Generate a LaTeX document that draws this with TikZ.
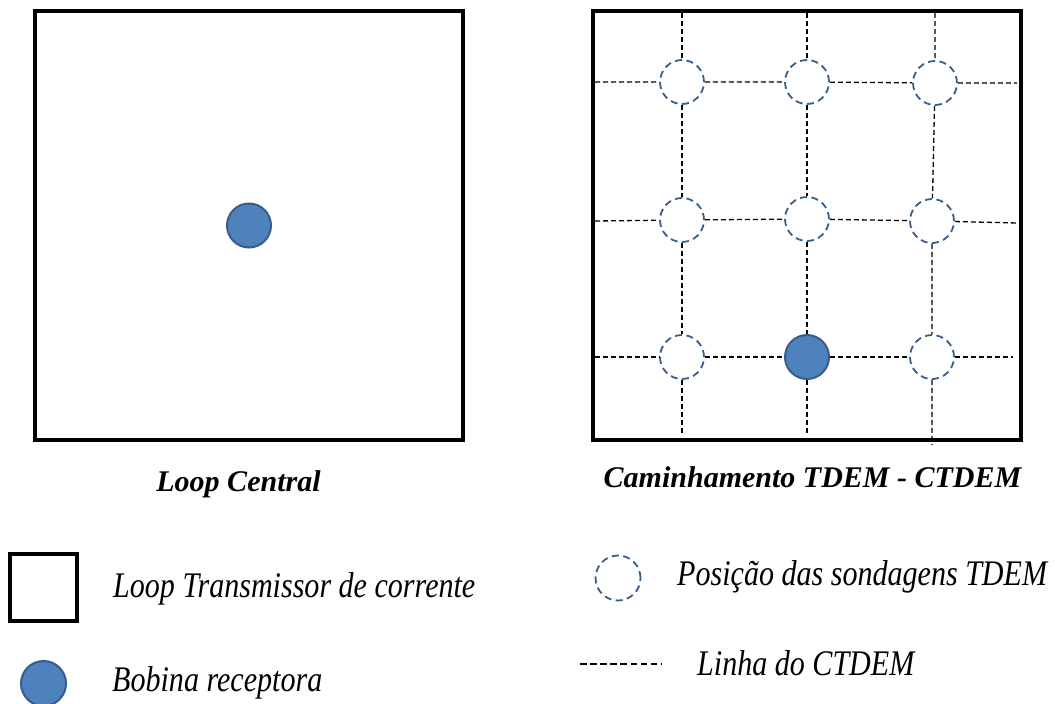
\documentclass[tikz,border=0pt]{standalone}
\usepackage{fontspec}
\setmainfont{Liberation Serif}
\usepackage{graphicx}
\definecolor{cfill}{HTML}{4F81BD}
\definecolor{cline}{HTML}{385D8A}
\tikzset{
  loopbox/.style={draw=black,line width=4pt,line join=miter},
  receiver/.style={circle,draw=cline,fill=cfill,line width=2pt,minimum size=44pt,inner sep=0pt},
  probe/.style={circle,draw=cline,line width=1.8pt,dash pattern=on 7pt off 4.5pt,minimum size=44pt,inner sep=0pt},
  gridline/.style={draw=black,line width=1.3pt,dash pattern=on 5pt off 3pt},
  titletext/.style={font=\fontsize{30}{36}\selectfont\bfseries\itshape,inner sep=0pt,anchor=base},
  legtext/.style={font=\fontsize{36}{42}\selectfont\itshape,inner sep=0pt,anchor=base west},
}
\newcommand{\legscale}[1]{\scalebox{0.835}[1]{#1}}
\begin{document}
\begin{tikzpicture}[x=1pt,y=-1pt]
\useasboundingbox (0,0) rectangle (1055,704);
% Loop Central
\node[loopbox,rectangle,minimum width=428pt,minimum height=429pt,inner sep=0pt] (loopA) at (249,225.5) {};
\node[receiver] (recA) at (249,225.5) {};
% Caminhamento
\node[loopbox,rectangle,minimum width=428pt,minimum height=429pt,inner sep=0pt] (loopB) at (807,225.5) {};
\node[probe] (c11) at (682,82) {};
\node[probe] (c12) at (807,82) {};
\node[probe] (c13) at (935,83) {};
\node[probe] (c21) at (682,220) {};
\node[probe] (c22) at (807,219) {};
\node[probe] (c23) at (932,221) {};
\node[probe] (c31) at (682,357) {};
\node[receiver] (c32) at (807,357) {};
\node[probe] (c33) at (932,357) {};
% line ends
\coordinate (v1t) at (682,13);
\coordinate (v1b) at (682,435);
\coordinate (v2t) at (807,13);
\coordinate (v2b) at (807,435);
\coordinate (v3t) at (935,13);
\coordinate (v3b) at (932,445);
\coordinate (h1l) at (595,82);
\coordinate (h1r) at (1017,83);
\coordinate (h2l) at (595,221);
\coordinate (h2r) at (1017,223);
\coordinate (h3l) at (595,357);
\coordinate (h3r) at (1013,357);
\draw[gridline] (v1t) -- (c11) -- (c21) -- (c31) -- (v1b);
\draw[gridline] (v2t) -- (c12) -- (c22) -- (c32) -- (v2b);
\draw[gridline] (v3t) -- (c13) -- (c23) -- (c33) -- (v3b);
\draw[gridline] (h1l) -- (c11) -- (c12) -- (c13) -- (h1r);
\draw[gridline] (h2l) -- (c21) -- (c22) -- (c23) -- (h2r);
\draw[gridline] (h3l) -- (c31) -- (c32) -- (c33) -- (h3r);
% titles
\node[titletext] (tA) at (238.5,491) {Loop Central};
\node[titletext] (tB) at (812.5,487) {Caminhamento TDEM - CTDEM};
% legend
\node[loopbox,rectangle,minimum width=67pt,minimum height=67pt,inner sep=0pt] (lsq) at (43.5,587.5) {};
\node[legtext] (lsqt) at (113,597) {\legscale{Loop Transmissor de corrente}};
\node[receiver,minimum size=45pt] (lrec) at (43.5,683.5) {};
\node[legtext] (lrect) at (112,691) {\legscale{Bobina receptora}};
\node[probe,minimum size=45pt] (lpos) at (618,578) {};
\node[legtext] (lpost) at (677,585) {\legscale{Posição das sondagens TDEM}};
\coordinate (ld1) at (580,664);
\coordinate (ld2) at (661,664);
\draw[gridline,dash pattern=on 6.5pt off 3.6pt] (ld1) -- (ld2);
\node[legtext] (ldt) at (697,675) {\legscale{Linha do CTDEM}};
\end{tikzpicture}
\end{document}
